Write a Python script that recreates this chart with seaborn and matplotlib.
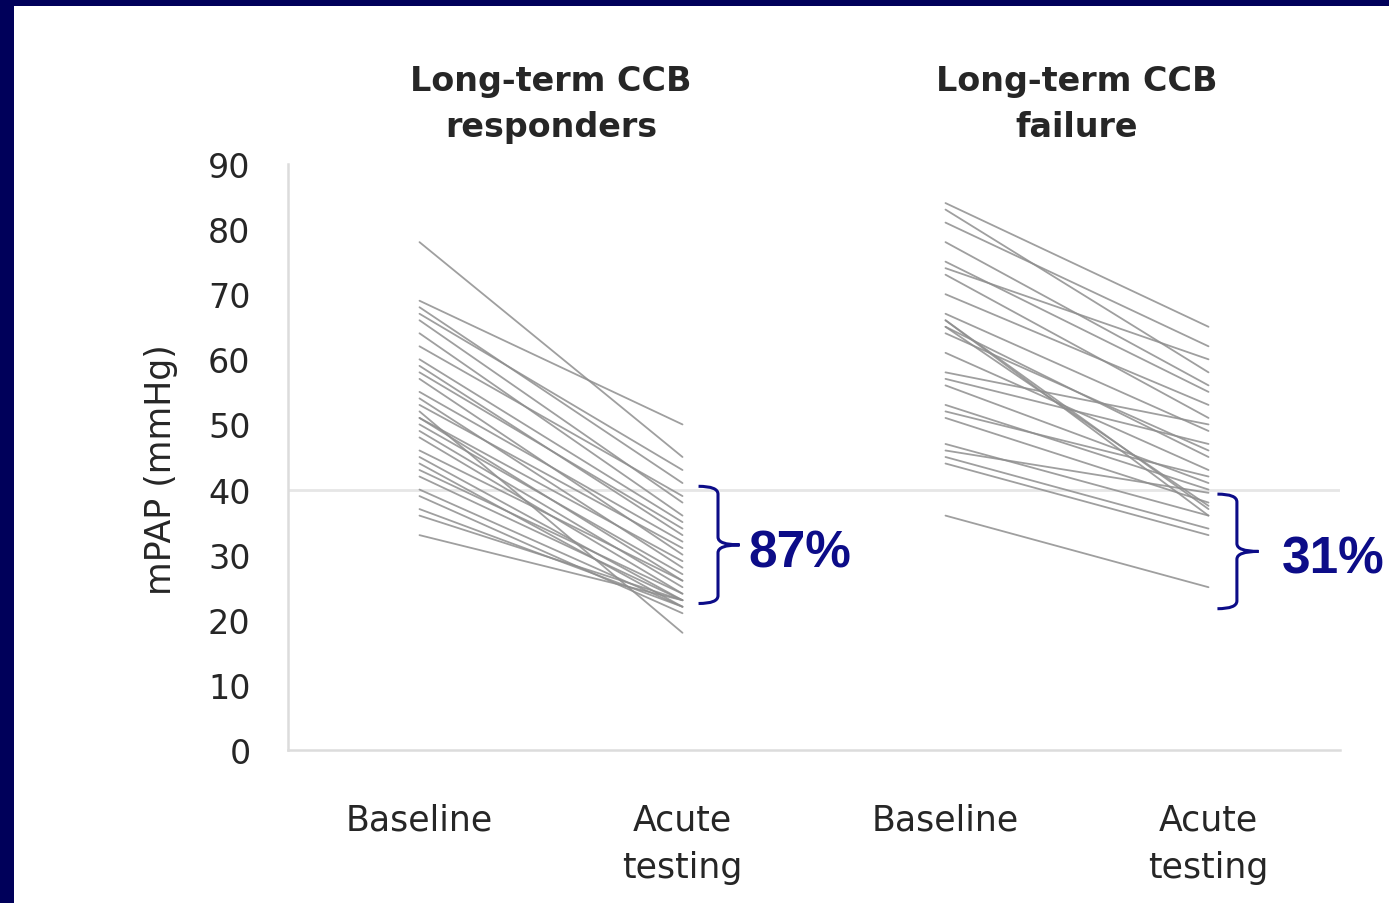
import numpy as np
import pandas as pd
import matplotlib
matplotlib.use("Agg")
import matplotlib.pyplot as plt
from matplotlib.path import Path
from matplotlib.patches import PathPatch, Rectangle
import seaborn as sns

# ---------------- data ----------------
panel_titles = ["Long-term CCB\nresponders", "Long-term CCB\nfailure"]
time_labels = ["Baseline", "Acute\ntesting"]

responders_baseline = [78, 69, 68, 67, 66, 64, 62, 60, 59, 58, 57, 55, 54, 53, 52,
                       51, 51, 50, 49, 48, 46, 45, 44, 43, 42, 40, 39, 37, 36, 33]
responders_acute = [45, 50, 41, 43, 38, 36, 39, 35, 33, 34, 30, 32, 28, 31, 18,
                    29, 26, 27, 25, 24, 26, 23, 22, 24, 23, 22, 21, 22, 23, 23]

failure_baseline = [84, 83, 81, 78, 75, 74, 73, 70, 67, 66, 66, 65, 65, 64, 61,
                    58, 57, 56, 53, 52, 51, 47, 46, 45, 44, 36]
failure_acute = [65, 58, 62, 56, 55, 60, 51, 53, 49, 37, 36, 45, 37.5, 46, 43,
                 50, 47, 41, 40, 42, 38, 36, 39.5, 34, 33, 25]

percent_labels = ["87%", "31%"]
brace_ranges = [(22.5, 40.5), (21.7, 39.3)]
threshold = 40

# ---------------- long-form table ----------------
rows = []
for p, (b, a) in enumerate([(responders_baseline, responders_acute),
                            (failure_baseline, failure_acute)]):
    for i, (vb, va) in enumerate(zip(b, a)):
        uid = f"{p}_{i}"
        rows.append({"unit": uid, "pos": 2 * p, "mPAP": vb})
        rows.append({"unit": uid, "pos": 2 * p + 1, "mPAP": va})
df = pd.DataFrame(rows)

# ---------------- style ----------------
sns.set_style("white")
plt.rcParams["font.family"] = ["DejaVu Sans"]

NAVY = "#00005a"
TEXT_NAVY = "#0c0c88"
LINE_GRAY = "#8e8e8e"
AXIS_GRAY = "#dcdcdc"

fig = plt.figure(figsize=(13.89, 9.04), dpi=100, facecolor=NAVY)
fig.patches.append(Rectangle((14 / 1389, 0), 1, (904 - 7) / 904,
                             transform=fig.transFigure, facecolor="white",
                             edgecolor="none", zorder=-10))

ax = fig.add_axes([288 / 1389, 1 - 751 / 904, (1340 - 288) / 1389, (751 - 165) / 904])
ax.set_facecolor("white")

ax.axhline(threshold, color="#e6e6e6", lw=2, zorder=0)

sns.lineplot(data=df, x="pos", y="mPAP", units="unit", estimator=None,
             color=LINE_GRAY, lw=1.3, alpha=0.85, ax=ax, legend=False)

ax.set_xlim(-0.5, 3.5)
ax.set_ylim(0, 90)
ax.set_yticks(np.arange(0, 91, 10))
ax.set_xticks([0, 1, 2, 3])
ax.set_xticklabels(time_labels * 2, fontsize=25, color="#262626", linespacing=1.5)
ax.tick_params(axis="x", length=0, pad=38)
ax.tick_params(axis="y", length=10, width=1, color="#eeeeee", pad=17,
               labelsize=24, labelcolor="#262626")

for s in ["top", "right"]:
    ax.spines[s].set_visible(False)
for s in ["left", "bottom"]:
    ax.spines[s].set_color(AXIS_GRAY)
    ax.spines[s].set_linewidth(1.8)

ax.set_xlabel("")
ax.set_ylabel("mPAP (mmHg)", fontsize=25, color="#262626")
ax.yaxis.set_label_coords(-0.105, 0.48)

# panel titles
for k, title in enumerate(panel_titles):
    ax.text(2 * k + 0.5, 99.3, title, ha="center", va="center", fontsize=24,
            fontweight="bold", color="#262626", linespacing=1.5, clip_on=False)


# braces and percentages
def brace(ax, x0, y_lo, y_hi, hook, tip, r=1.2):
    y_mid = (y_lo + y_hi) / 2
    verts = [(x0 - hook, y_hi), (x0, y_hi), (x0, y_hi - r),
             (x0, y_mid + r), (x0, y_mid), (x0 + tip, y_mid),
             (x0, y_mid), (x0, y_mid - r),
             (x0, y_lo + r), (x0, y_lo), (x0 - hook, y_lo)]
    codes = [Path.MOVETO, Path.CURVE3, Path.CURVE3,
             Path.LINETO, Path.CURVE3, Path.CURVE3,
             Path.CURVE3, Path.CURVE3,
             Path.LINETO, Path.CURVE3, Path.CURVE3]
    ax.add_patch(PathPatch(Path(verts, codes), fill=False, edgecolor=TEXT_NAVY,
                           lw=2.2, clip_on=False, zorder=5))
    return y_mid


brace_x = [1.135, 3.108]
label_x = [1.249, 3.28]
for k in range(2):
    lo, hi = brace_ranges[k]
    ym = brace(ax, brace_x[k], lo, hi, hook=0.074, tip=0.082)
    ax.text(label_x[k], ym - 1.2, percent_labels[k], ha="left", va="center",
            fontsize=37, fontweight="bold", color=TEXT_NAVY,
            family=["Liberation Sans", "DejaVu Sans"], clip_on=False)

fig.savefig("out.png", dpi=100, facecolor=NAVY)
